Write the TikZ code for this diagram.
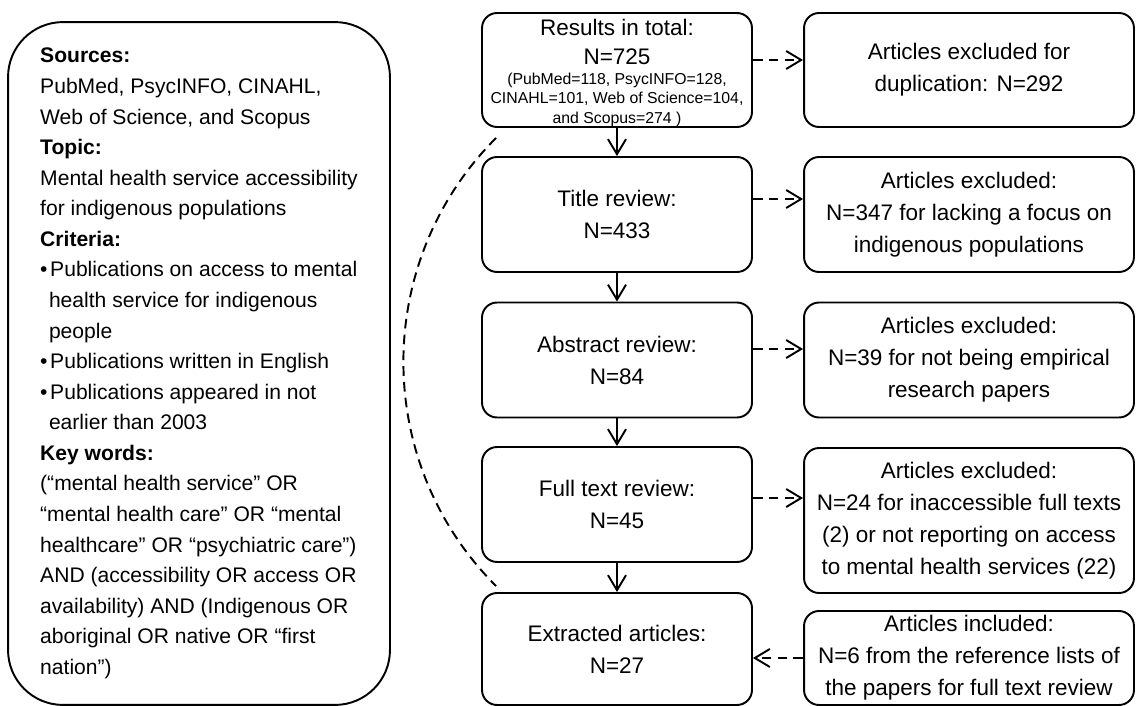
\documentclass[tikz,border=0pt]{standalone}
\usepackage{fontspec}
\setmainfont{Liberation Sans}
\usetikzlibrary{arrows.meta,calc}

\tikzset{
  >={Straight Barb[length=3mm,width=3.6mm]},
  flowbox/.style={draw, line width=1.1pt, rounded corners=0.3cm, align=center, inner sep=2pt,
    font=\fontsize{12.8}{18.2}\selectfont},
  stepbox/.style={flowbox, minimum width=5.4cm, minimum height=2.3cm},
  sidebox/.style={flowbox, minimum width=6.6cm, minimum height=2.3cm},
  searchbox/.style={draw, line width=1.1pt, rounded corners=1.1cm, align=left,
    minimum width=7.64cm, minimum height=13.66cm,
    font=\fontsize{12}{17.4}\selectfont},
  exarrow/.style={->, line width=1.1pt, dash pattern=on 5.5pt off 3.5pt},
  backline/.style={line width=1.1pt, dash pattern=on 5.5pt off 3.5pt}
}

\begin{document}
\begin{tikzpicture}[x=0.02cm,y=-0.02cm]
    \useasboundingbox (0,0) rectangle (1136,706);

    % draw search box
    \node (search) [searchbox] at (199,363.5) {%
      \textbf{Sources:}\\
      PubMed, PsycINFO, CINAHL,\\
      Web of Science, and Scopus\\
      \textbf{Topic:}\\
      Mental health service accessibility\\
      for indigenous populations\\
      \textbf{Criteria:}\\
      \textbullet\hspace{1.5pt}Publications on access to mental\\
      \hspace*{5pt}health service for indigenous\\
      \hspace*{5pt}people\\
      \textbullet\hspace{1.5pt}Publications written in English\\
      \textbullet\hspace{1.5pt}Publications appeared in not\\
      \hspace*{5pt}earlier than 2003\\
      \textbf{Key words:}\\
      (“mental health service” OR\\
      “mental health care” OR “mental\\
      healthcare” OR “psychiatric care”)\\
      AND (accessibility OR access OR\\
      availability) AND (Indigenous OR\\
      aboriginal OR native OR “first\\
      nation”)};

    % draw review steps
    \node (total) [stepbox, inner ysep=0pt, minimum height=2.28cm] at (617,70) {\rule{0pt}{11.6pt}Results in total:\\[-1.8pt]N=725\\[-6.5pt]
      {\fontsize{9}{11}\selectfont\raisebox{0pt}[\height][\dimexpr\depth-2.3pt\relax]{\begin{tabular}[t]{@{}c@{}}(PubMed=118, PsycINFO=128,\\
      CINAHL=101, Web of Science=104,\\and Scopus=274 )\end{tabular}}}};
    \node (title) [stepbox] at (617,214.5) {Title review:\\N=433};
    \node (abstract) [stepbox] at (617,360) {Abstract review:\\N=84};
    \node (fulltext) [stepbox] at (617,504.5) {Full text review:\\N=45};
    \node (extracted) [stepbox, minimum height=2.24cm] at (617,649) {Extracted articles:\\N=27};

    % draw exclusions
    \node (dupl) [sidebox, minimum height=2.28cm] at (969,70) {Articles excluded for\\duplication: N=292};
    \node (exctitle) [sidebox] at (969,214.5) {Articles excluded:\\N=347 for lacking a focus on\\indigenous populations};
    \node (excabs) [sidebox] at (969,360) {Articles excluded:\\N=39 for not being empirical\\research papers};
    \node (excfull) [sidebox, minimum height=2.9cm] at (969,520.5) {Articles excluded:\\N=24 for inaccessible full texts\\(2) or not reporting on access\\to mental health services (22)};
    \node (incl) [sidebox, minimum height=1.88cm] at (969,658) {Articles included:\\N=6 from the reference lists of\\the papers for full text review};

    % draw flow
    \draw[->, line width=1.1pt] (total) -- (title);
    \draw[->, line width=1.1pt] (title) -- (abstract);
    \draw[->, line width=1.1pt] (abstract) -- (fulltext);
    \draw[->, line width=1.1pt] (fulltext) -- (extracted);

    \draw[exarrow] ([yshift=0.2cm]total.east) coordinate (o1) -- (o1 -| dupl.west);
    \draw[exarrow] ([yshift=0.31cm]title.east) coordinate (o2) -- (o2 -| exctitle.west);
    \draw[exarrow] ([yshift=0.22cm]abstract.east) coordinate (o3) -- (o3 -| excabs.west);
    \draw[exarrow] ([yshift=0.13cm]fulltext.east) coordinate (o4) -- (o4 -| excfull.west);
    \draw[exarrow] (incl.west) -- (incl.west -| extracted.east);

    % draw back line
    \draw[backline] ($(total.south west)+(15,10)$) to[bend right=45] ($(extracted.north west)+(15,-6)$);
\end{tikzpicture}
\end{document}
